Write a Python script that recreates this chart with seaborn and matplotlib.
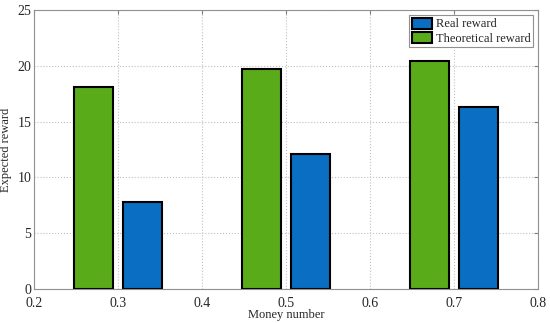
import matplotlib
matplotlib.use("Agg")
import matplotlib.pyplot as plt
import seaborn as sns
import pandas as pd
from matplotlib.patches import Patch

# Data
money_number = [0.3, 0.5, 0.7]
theoretical_reward = [18.1, 19.7, 20.4]
real_reward = [7.8, 12.1, 16.3]
series_names = ["Theoretical reward", "Real reward"]
series_colors = {"Theoretical reward": "#5AAB1A", "Real reward": "#0A6EC2"}

df = pd.DataFrame({
    "money": money_number * 2,
    "reward": theoretical_reward + real_reward,
    "series": [series_names[0]] * 3 + [series_names[1]] * 3,
})

sns.set_style("white")
plt.rcParams["font.family"] = ["Liberation Serif", "DejaVu Serif"]

fig = plt.figure(figsize=(5.5, 3.23), dpi=100)
ax = fig.add_axes([0.062, 0.105, 0.916, 0.864])

sns.barplot(data=df, x="money", y="reward", hue="series", hue_order=series_names,
            palette=series_colors, saturation=1, native_scale=True, width=0.58, gap=0.2,
            edgecolor="black", linewidth=1.5, ax=ax, legend=False, errorbar=None)

ax.set_xlim(0.2, 0.8)
ax.set_ylim(0, 25)
ax.set_xticks([0.2, 0.3, 0.4, 0.5, 0.6, 0.7, 0.8])
ax.set_xticklabels(["0.2", "0.3", "0.4", "0.5", "0.6", "0.7", "0.8"])
ax.set_yticks([0, 5, 10, 15, 20, 25])
ax.grid(True, linestyle=":", color="#c0c0c0", linewidth=0.8)
ax.set_axisbelow(True)
ax.tick_params(direction="in", length=3, labelsize=10, color="#808080",
               top=True, right=True)
ax.tick_params(axis="x", pad=6)
ax.tick_params(axis="y", pad=2)
for s in ax.spines.values():
    s.set_color("#909090")
    s.set_linewidth(0.8)

ax.set_xlabel("Money number", fontsize=9, labelpad=-1)
ax.set_ylabel("Expected reward", fontsize=9, labelpad=4)

handles = [Patch(facecolor=series_colors["Real reward"], edgecolor="black", linewidth=1.5),
           Patch(facecolor=series_colors["Theoretical reward"], edgecolor="black", linewidth=1.5)]
leg = ax.legend(handles, ["Real reward", "Theoretical reward"], loc="upper right",
                fontsize=9, fancybox=False, framealpha=1, edgecolor="#909090",
                handlelength=1.6, handleheight=1.0, handletextpad=0.3,
                borderpad=0.2, labelspacing=0.1, borderaxespad=0.4)
leg.get_frame().set_linewidth(0.8)

fig.savefig("out.png", dpi=100)
